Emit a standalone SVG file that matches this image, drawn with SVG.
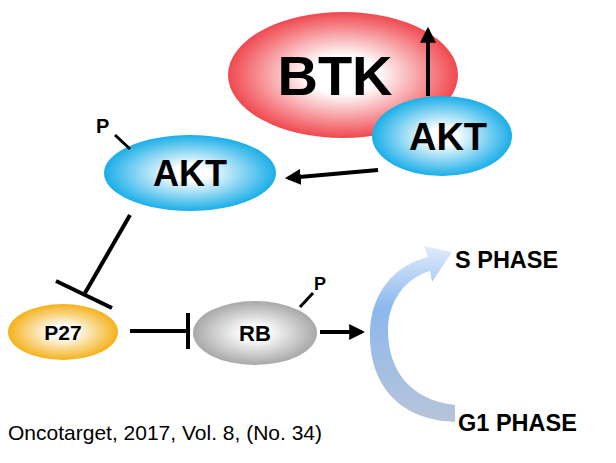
<svg xmlns="http://www.w3.org/2000/svg" width="616" height="463" viewBox="0 0 616 463">
<style>
text{font-family:"Liberation Sans",Arial,sans-serif;font-weight:bold;fill:#000}
text.cap{font-weight:normal}
.l{stroke:#000;stroke-width:4;fill:none}
</style>
<defs>
<radialGradient id="red" cx="0.5" cy="0.5" r="0.5"><stop offset="0.3" stop-color="#fff"/><stop offset="1" stop-color="#f0484f"/></radialGradient>
<radialGradient id="blue" cx="0.5" cy="0.5" r="0.5"><stop offset="0.2" stop-color="#fff"/><stop offset="1" stop-color="#1aaee8"/></radialGradient>
<radialGradient id="yel" cx="0.5" cy="0.5" r="0.5"><stop offset="0.2" stop-color="#fff"/><stop offset="1" stop-color="#f4b21a"/></radialGradient>
<radialGradient id="gray" cx="0.5" cy="0.5" r="0.5"><stop offset="0.2" stop-color="#fff"/><stop offset="1" stop-color="#a8a8a8"/></radialGradient>
<linearGradient id="cyc" x1="0" y1="0" x2="0" y2="1"><stop offset="0" stop-color="#e0ecfb"/><stop offset="0.35" stop-color="#8cb8ee"/><stop offset="1" stop-color="#b8c4d8"/></linearGradient>
<marker id="ah" viewBox="0 0 10 10" refX="8" refY="5" markerWidth="4" markerHeight="4" orient="auto"><path d="M0,0L10,5L0,10z" fill="#000"/></marker>
</defs>
<g id="btk"><ellipse cx="343" cy="75" rx="115" ry="63" fill="url(#red)"/><text x="335" y="95" font-size="56" text-anchor="middle">BTK</text></g>
<g id="akt2"><ellipse cx="442" cy="136" rx="70" ry="40" fill="url(#blue)"/><text x="448" y="150" font-size="38" text-anchor="middle">AKT</text></g>
<g id="akt1"><ellipse cx="190" cy="173" rx="86" ry="38" fill="url(#blue)"/><text x="190" y="186" font-size="36" text-anchor="middle">AKT</text><text x="96" y="133" font-size="20">P</text><line x1="115" y1="135" x2="130" y2="149" stroke="#000" stroke-width="3"/></g>
<g id="p27"><ellipse cx="63" cy="332" rx="55" ry="28" fill="url(#yel)"/><text x="63" y="340" font-size="21" text-anchor="middle">P27</text></g>
<g id="rb"><ellipse cx="255" cy="333" rx="62" ry="32" fill="url(#gray)"/><text x="255" y="341" font-size="22" text-anchor="middle">RB</text><text x="314" y="290" font-size="18">P</text><line x1="300" y1="307" x2="313" y2="293" stroke="#000" stroke-width="3"/></g>
<g id="cycle"><path d="M455,422 C395,420 368,380 370,330 C372,292 395,265 428,257 L424,246 L452,252 L432,282 L430,271 C405,278 388,302 388,330 C388,370 410,400 455,405 Z" fill="url(#cyc)"/><text x="455" y="268" font-size="23.5">S PHASE</text><text x="458" y="431" font-size="23.5">G1 PHASE</text></g>
<g id="connectors">
<line class="l" x1="428" y1="96" x2="428" y2="30" marker-end="url(#ah)"/>
<line class="l" x1="378" y1="170" x2="288" y2="178" marker-end="url(#ah)"/>
<line class="l" x1="130" y1="215" x2="85" y2="293"/>
<line class="l" x1="56" y1="281" x2="112" y2="308"/>
<line class="l" x1="130" y1="331" x2="186" y2="331"/>
<line class="l" x1="188" y1="313" x2="188" y2="349"/>
<line class="l" x1="320" y1="332" x2="362" y2="332" marker-end="url(#ah)"/>
</g>
<text class="cap" x="8" y="440" font-size="21">Oncotarget, 2017, Vol. 8, (No. 34)</text>
</svg>
